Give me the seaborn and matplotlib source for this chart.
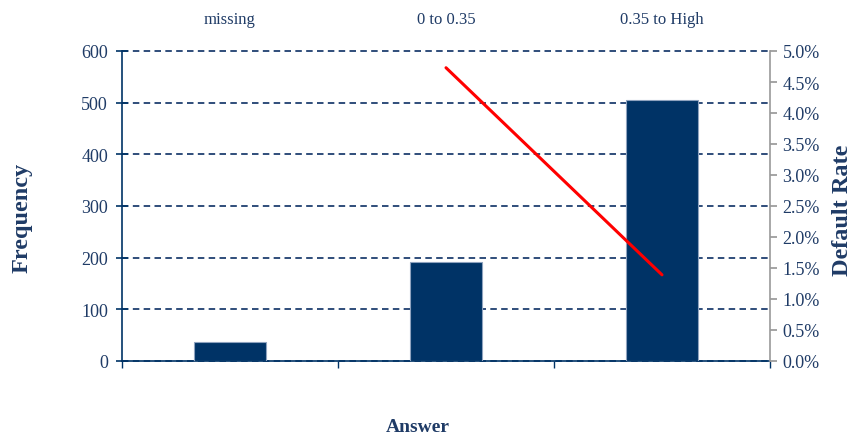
import matplotlib
matplotlib.use("Agg")
import matplotlib.pyplot as plt
import matplotlib.ticker as mticker
import seaborn as sns
import pandas as pd
import numpy as np

categories = ["missing", "0 to 0.35", "0.35 to High"]
frequency = [37, 192, 505]
default_rate = [np.nan, 0.0473, 0.0139]

sns.set_theme(style="white")
plt.rcParams['font.family'] = ['Liberation Serif', 'DejaVu Serif']

NAVY = "#003366"
TXT = "#1F3B66"
GRID = "#1F3F6F"

df = pd.DataFrame({"cat": categories, "freq": frequency, "rate": default_rate})

fig = plt.figure(figsize=(8.56, 4.39), dpi=100)
ax = fig.add_axes([122/856, 1-362/439, (770-122)/856, (362-52)/439])

sns.barplot(data=df, x="cat", y="freq", ax=ax, color=NAVY, width=0.33,
            saturation=1, edgecolor="#8FA3BF", linewidth=0.8, zorder=3)
ax.set_xlim(-0.5, 2.5)
ax.set_ylim(0, 600)
ax.set_yticks(range(0, 601, 100))
ax.yaxis.grid(True, linestyle=(0, (3.6, 2.4)), color=GRID, linewidth=1.3, zorder=0)
ax.set_axisbelow(True)
for gl in ax.get_ygridlines():
    gl.set_clip_on(False)

ax.spines["top"].set_visible(False)
ax.spines["left"].set_color(NAVY)
ax.spines["bottom"].set_color(NAVY)
ax.spines["left"].set_linewidth(1.2)
ax.spines["bottom"].set_linewidth(1.2)
ax.spines["right"].set_visible(False)

ax.set_xticks([0, 1, 2])
ax.set_xticklabels(categories)
ax.xaxis.set_minor_locator(mticker.FixedLocator([-0.5, 0.5, 1.5, 2.5]))
ax.tick_params(axis="x", which="major", length=0, labeltop=True, labelbottom=False,
               top=False, bottom=False, labelsize=12, labelcolor=TXT, pad=17.5)
ax.tick_params(axis="x", which="minor", length=5, bottom=True, color=NAVY, width=1)
ax.tick_params(axis="y", left=True, length=8, direction="inout", color=NAVY, width=1.2,
               labelsize=13, labelcolor=TXT, pad=6)
ax.set_xlabel("")
ax.set_ylabel("Frequency", fontsize=17.5, fontweight="bold", color=TXT)
ax.yaxis.set_label_coords((22-122)/648, (362-218)/310)
ax.yaxis.label.set_verticalalignment("center")
ax.yaxis.label.set_horizontalalignment("center")

ax2 = ax.twinx()
sns.lineplot(data=df, x="cat", y="rate", ax=ax2, color="#FF0000", linewidth=2.2, zorder=5)
ax2.set_ylim(0, 0.05)
ax2.set_yticks(np.arange(0, 0.0501, 0.005))
ax2.yaxis.set_major_formatter(mticker.FuncFormatter(lambda v, p: f"{v*100:.1f}%"))
for s in ["top", "left", "bottom"]:
    ax2.spines[s].set_visible(False)
ax2.spines["right"].set_color("#999999")
ax2.spines["right"].set_linewidth(1.2)
ax2.tick_params(axis="y", right=True, length=5, direction="out", color="#999999",
                labelsize=13, labelcolor=TXT, pad=4)
ax2.set_ylabel("Default Rate", fontsize=17.5, fontweight="bold", color=TXT)
ax2.yaxis.set_label_coords((843-122)/648, (362-210)/310)
ax2.yaxis.label.set_verticalalignment("center")
ax2.yaxis.label.set_horizontalalignment("center")
ax2.set_xlabel("")
ax2.grid(False)

fig.text(418/856, 1-428/439, "Answer", ha="center", va="center", fontsize=14,
         fontweight="bold", color=TXT)

fig.savefig("out.png", dpi=100)
